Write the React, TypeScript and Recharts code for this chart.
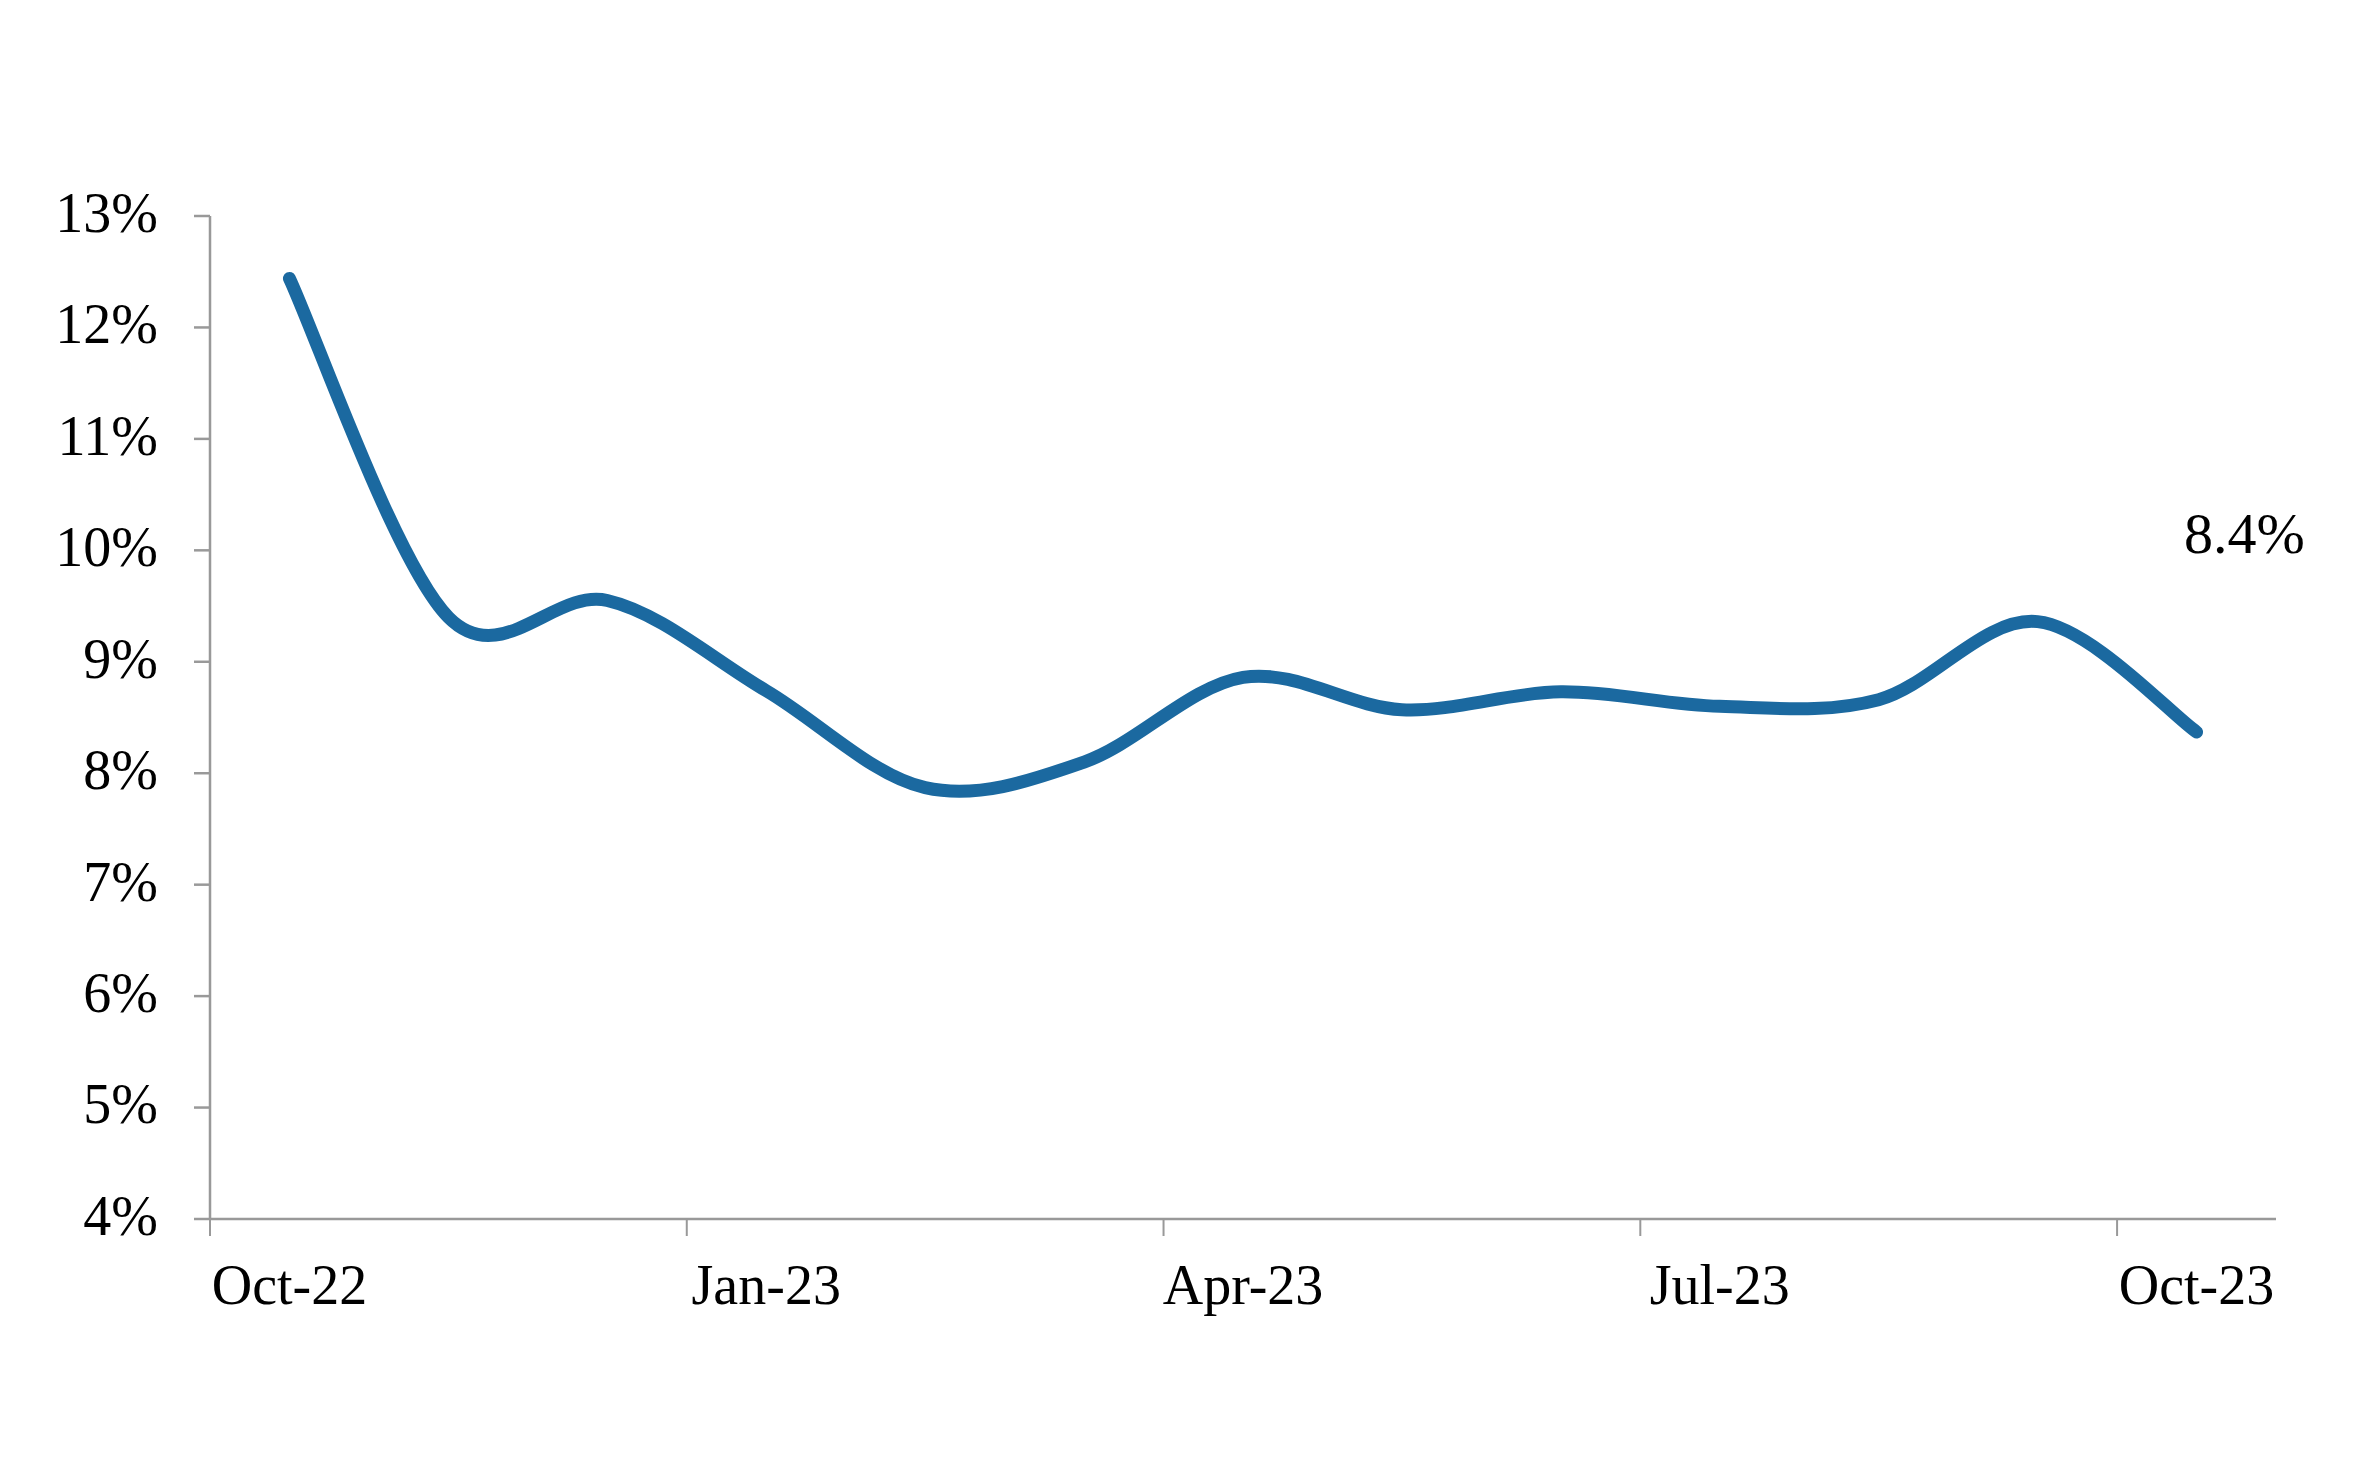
import React from "react";
import { LineChart, Line, XAxis, YAxis } from "recharts";

const months = [
  "Oct-22", "Nov-22", "Dec-22", "Jan-23", "Feb-23", "Mar-23", "Apr-23",
  "May-23", "Jun-23", "Jul-23", "Aug-23", "Sep-23", "Oct-23",
];
const rates = [12.44, 9.4, 9.55, 8.74, 7.87, 8.1, 8.86, 8.57, 8.73, 8.6, 8.66, 9.36, 8.37];
const yTicks = [4, 5, 6, 7, 8, 9, 10, 11, 12, 13];
const boundaryTicks = [0, 3, 6, 9, 12];
const labelTicks = [0.5, 3.5, 6.5, 9.5, 12.5];

const data = months.map((m, i) => ({ pos: i + 0.5, month: m, rate: rates[i] }));

const FONT = "'Liberation Serif', 'Times New Roman', serif";
const AXIS = "#999999";
const BLUE = "#1B69A0";

// Excel-style smoothed line (Catmull-Rom Bezier)
function excelSpline(context: any) {
  let pts: number[][] = [];
  return {
    areaStart() {},
    areaEnd() {},
    lineStart() {
      pts = [];
    },
    point(x: number, y: number) {
      pts.push([+x, +y]);
    },
    lineEnd() {
      const n = pts.length;
      if (!n) return;
      context.moveTo(pts[0][0], pts[0][1]);
      for (let i = 0; i < n - 1; i++) {
        const p0 = pts[Math.max(i - 1, 0)];
        const p1 = pts[i];
        const p2 = pts[i + 1];
        const p3 = pts[Math.min(i + 2, n - 1)];
        context.bezierCurveTo(
          p1[0] + (p2[0] - p0[0]) / 6,
          p1[1] + (p2[1] - p0[1]) / 6,
          p2[0] - (p3[0] - p1[0]) / 6,
          p2[1] - (p3[1] - p1[1]) / 6,
          p2[0],
          p2[1]
        );
      }
    },
  };
}

const EndLabel = (props: any) => {
  const { x, y, index } = props;
  if (index !== rates.length - 1) return null;
  return (
    <text
      x={x + 48}
      y={y - 179}
      textAnchor="middle"
      fontFamily={FONT}
      fontSize={58}
      fill="#000"
    >
      {`${rates[index].toFixed(1)}%`}
    </text>
  );
};

const NoLabel = () => <g />;

export default function App() {
  return (
    <div style={{ width: 2340, height: 1440, background: "#fff" }}>
      <LineChart
        width={2340}
        height={1440}
        data={data}
        margin={{ top: 208, right: 72, bottom: 0, left: 0 }}
      >
        <XAxis
          xAxisId="bounds"
          type="number"
          dataKey="pos"
          domain={[0, 13]}
          ticks={boundaryTicks}
          interval={0}
          tick={NoLabel}
          height={1}
          tickSize={17}
          axisLine={{ stroke: AXIS, strokeWidth: 2.5 }}
          tickLine={{ stroke: AXIS, strokeWidth: 2 }}
          allowDataOverflow
        />
        <XAxis
          xAxisId="labels"
          type="number"
          dataKey="pos"
          domain={[0, 13]}
          ticks={labelTicks}
          interval={0}
          height={228}
          axisLine={false}
          tickLine={false}
          tickSize={0}
          tickMargin={44}
          tickFormatter={(v: number) => months[Math.round(v - 0.5)]}
          tick={{ fill: "#000", fontSize: 56, fontFamily: FONT }}
          allowDataOverflow
        />
        <YAxis
          type="number"
          domain={[4, 13]}
          ticks={yTicks}
          interval={0}
          width={202}
          tickSize={16}
          tickMargin={36}
          axisLine={{ stroke: AXIS, strokeWidth: 2.5 }}
          tickLine={{ stroke: AXIS, strokeWidth: 2.5 }}
          tickFormatter={(v: number) => `${v}%`}
          tick={{ fill: "#000", fontSize: 56, fontFamily: FONT, dy: -4 }}
        />
        <Line
          xAxisId="labels"
          dataKey="rate"
          type={excelSpline as any}
          stroke={BLUE}
          strokeWidth={13}
          strokeLinecap="round"
          dot={false}
          activeDot={false}
          isAnimationActive={false}
          label={<EndLabel />}
        />
      </LineChart>
    </div>
  );
}
